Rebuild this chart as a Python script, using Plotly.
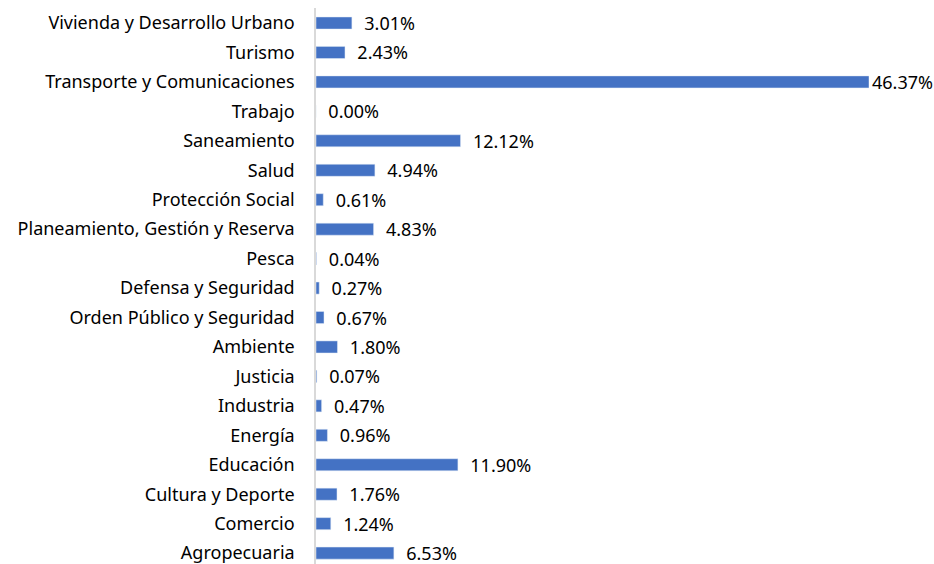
import plotly.graph_objects as go

# Categorías (de abajo hacia arriba) y porcentajes
categorias = [
    "Agropecuaria", "Comercio", "Cultura y Deporte", "Educación", "Energía",
    "Industria", "Justicia", "Ambiente", "Orden Público y Seguridad",
    "Defensa y Seguridad", "Pesca", "Planeamiento, Gestión y Reserva",
    "Protección Social", "Salud", "Saneamiento", "Trabajo",
    "Transporte y Comunicaciones", "Turismo", "Vivienda y Desarrollo Urbano",
]
porcentajes = [
    6.53, 1.24, 1.76, 11.90, 0.96,
    0.47, 0.07, 1.80, 0.67,
    0.27, 0.04, 4.83,
    0.61, 4.94, 12.12, 0.00,
    46.37, 2.43, 3.01,
]
etiquetas = ["  %.2f%%" % v for v in porcentajes]
etiquetas[categorias.index("Transporte y Comunicaciones")] = "%.2f%%" % 46.37

fuente = "Noto Sans"
tam = 18

fig = go.Figure(go.Bar(
    x=porcentajes, y=categorias, orientation="h",
    marker_color="#4472C4", width=0.41,
    text=etiquetas, textposition="outside", constraintext="none",
    cliponaxis=False,
    textfont=dict(family=fuente, size=tam, color="#000000"),
))

fig.update_layout(
    width=934, height=564,
    margin=dict(l=316, r=65, t=8, b=0),
    plot_bgcolor="white", paper_bgcolor="white",
    showlegend=False,
    font=dict(family=fuente, size=tam, color="#000000"),
)
fig.update_xaxes(range=[0, 46.37], visible=False)
fig.update_yaxes(
    range=[-0.37, 18.51], showline=True, linecolor="#D9D9D9", linewidth=1.5,
    ticks="", ticklabelstandoff=16, showgrid=False,
)

fig.write_html("out.html", config={"displayModeBar": False},
               post_script="document.body.style.margin='0';")
